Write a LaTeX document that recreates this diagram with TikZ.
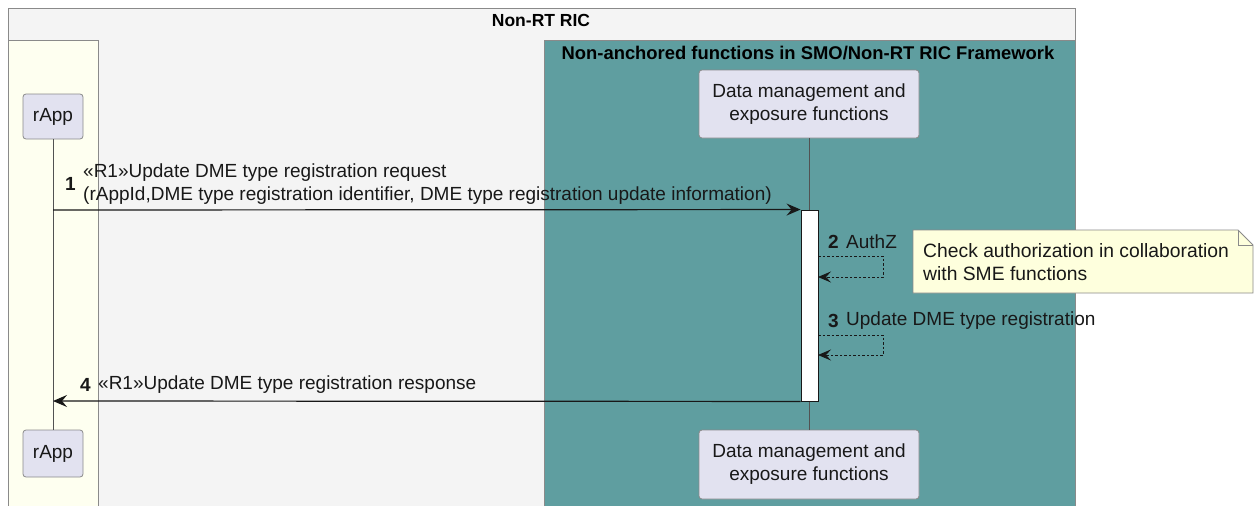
\documentclass[tikz,border=0pt]{standalone}
\usepackage{fontspec}
\setmainfont{Liberation Sans}
\usetikzlibrary{arrows.meta}
\definecolor{ricgray}{HTML}{F4F4F4}
\definecolor{laneyellow}{HTML}{FEFFF0}
\definecolor{teal}{HTML}{5F9EA0}
\definecolor{partfill}{HTML}{E2E2F0}
\definecolor{notefill}{HTML}{FEFFDD}
\definecolor{bordergray}{HTML}{8A8A8A}
\definecolor{ink}{HTML}{181818}
\tikzset{
  x=1pt, y=-1pt,
  txt/.style={font=\fontsize{19}{23}\selectfont, text=ink, inner sep=0pt},
  numtxt/.style={font=\fontsize{19}{23}\selectfont\bfseries, text=ink, inner sep=0pt},
  ttl/.style={font=\fontsize{17.5}{21}\selectfont\bfseries, text=black, inner sep=0pt},
  part/.style={draw=bordergray, fill=partfill, rounded corners=3pt, line width=0.8pt,
    font=\fontsize{19}{23}\selectfont, text=ink, align=center, inner sep=0pt},
  lifeline/.style={draw=ink!75, line width=0.6pt},
  msg/.style={draw=ink, line width=1.2pt, -{Stealth[length=14pt,width=12pt,inset=5pt]}},
  selfmsg/.style={draw=ink, line width=0.8pt, dash pattern=on 2.5pt off 2pt,
    -{Stealth[length=13pt,width=11pt,inset=5pt]}},
  frame/.style={draw=bordergray, line width=0.8pt},
  activ/.style={draw=ink, fill=white, line width=0.9pt}
}
\begin{document}
\begin{tikzpicture}
\useasboundingbox (0,0) rectangle (1254,506);
\clip (0,0) rectangle (1254,506);
\fill[white] (0,0) rectangle (1254,506);
% containers
\draw[frame, fill=ricgray] (8,8) rectangle (1075,520);
\node[ttl] (rictitle) at (541,20) {Non-RT RIC};
\draw[frame, fill=laneyellow] (8,40) rectangle (98,520);
\draw[frame, fill=teal] (544,40) rectangle (1075,520);
\node[ttl, font=\fontsize{18.4}{22}\selectfont\bfseries] (tealtitle) at (808,53) {Non-anchored functions in SMO/Non-RT RIC Framework};
% participants
\node[part, minimum width=60pt, minimum height=45pt] (rapptop) at (53,116.5) {rApp};
\node[part, minimum width=60pt, minimum height=47pt] (rappbot) at (53,453.5) {rApp};
\node[part, minimum width=220pt, minimum height=68pt] (dmetop) at (809,104) {Data management and\\exposure functions};
\node[part, minimum width=220pt, minimum height=69pt] (dmebot) at (809,464.5) {Data management and\\exposure functions};
% lifelines
\draw[lifeline] (rapptop.south) -- (rappbot.north);
\draw[lifeline] (dmetop.south) -- (dmebot.north);
% activation
\node[activ, minimum width=17pt, minimum height=191pt, inner sep=0pt] (act) at (809.5,305.5) {};
% coordinates
\coordinate (r1) at (53,210);
\coordinate (r4) at (53,401);
\coordinate (a1) at (act.north west);
\coordinate (a4) at (act.south west);
\coordinate (s2a) at (818,256);
\coordinate (s2b) at (883,256);
\coordinate (s2c) at (883,277);
\coordinate (s2d) at (818,277);
\coordinate (s3a) at (818,335);
\coordinate (s3b) at (883,335);
\coordinate (s3c) at (883,355);
\coordinate (s3d) at (818,355);
% message 1
\draw[msg] (r1) -- (a1);
\node[numtxt, anchor=west] (n1) at (65,184) {1};
\node[txt, anchor=west] (m1a) at (83,173) {«R1»Update DME type registration request};
\node[txt, anchor=west] (m1b) at (83,196) {(rAppId,DME type registration identifier, DME type registration update information)};
% message 2
\draw[selfmsg] (s2a) -- (s2b) -- (s2c) -- (s2d);
\node[numtxt, anchor=west] (n2) at (828,242) {2};
\node[txt, anchor=west] (m2) at (846,242) {AuthZ};
% note
\draw[frame, fill=notefill] (913,230) -- (1238,230) -- (1253,245) -- (1253,293) -- (913,293) -- cycle;
\draw[frame] (1238,230) -- (1238,245) -- (1253,245);
\node[txt, anchor=west, align=left, font=\fontsize{19.3}{23}\selectfont] (note) at (923,262.5) {Check authorization in collaboration\\with SME functions};
% message 3
\draw[selfmsg] (s3a) -- (s3b) -- (s3c) -- (s3d);
\node[numtxt, anchor=west] (n3) at (828,321) {3};
\node[txt, anchor=west] (m3) at (846,321) {Update DME type registration};
% message 4
\draw[msg] (a4) -- (r4);
\node[numtxt, anchor=west] (n4) at (80,385) {4};
\node[txt, anchor=west] (m4) at (98,385) {«R1»Update DME type registration response};
\end{tikzpicture}
\end{document}
